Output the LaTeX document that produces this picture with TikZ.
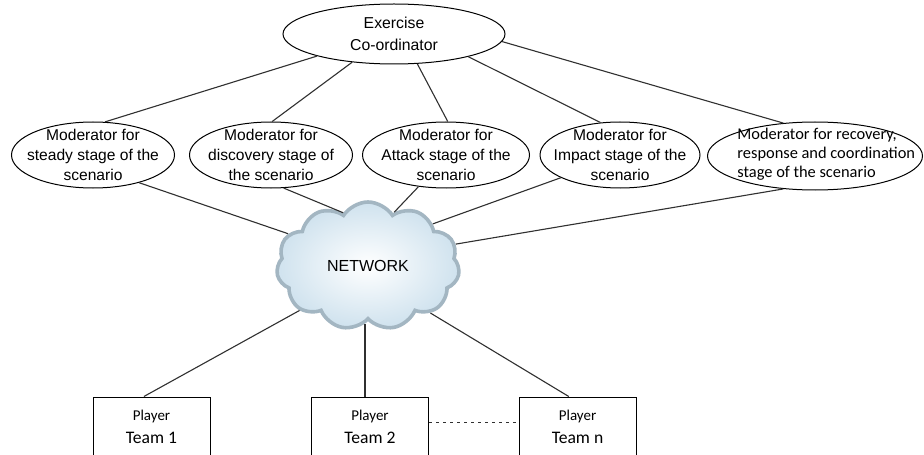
\documentclass[tikz,border=0pt]{standalone}
\usepackage{fontspec}
\setmainfont{Liberation Sans}
\newfontfamily\calfont{Carlito}
\usepackage{xcolor}
\definecolor{CloudEdge}{HTML}{A3B6C2}
\definecolor{CloudBlue}{HTML}{CFE2EE}
\definecolor{LineGray}{HTML}{303030}
\usepackage{tikz}
\usetikzlibrary{calc, positioning, shapes.geometric, shapes.symbols}

\begin{document}
\begin{tikzpicture}[x=0.5pt, y=-0.5pt,
  mod/.style={draw, ellipse, inner sep=0pt, minimum width=81.5pt, minimum height=33pt, line width=0.5pt},
  modtxt/.style={font=\fontsize{7.8}{10}\selectfont, align=center, inner sep=0pt},
  team/.style={draw, rectangle, minimum width=58.5pt, minimum height=30pt, inner sep=0pt, align=center, line width=0.5pt, font=\calfont\fontsize{8.8}{11.5}\selectfont},
  link/.style={draw=LineGray, line width=0.55pt}]
  \useasboundingbox (0,0) rectangle (924,454);
  \fill[white] (0,0) rectangle (924,454);
  % coordinator and moderators
  \node[mod, minimum width=111pt, minimum height=30pt, align=center, font=\fontsize{7.9}{11}\selectfont] (ex) at (394,34) {Exercise\\Co-ordinator};
  \node[mod] (m1) at (93,155) {};
  \node[modtxt] (m1t) at (m1) {Moderator for\\steady stage of the\\scenario};
  \node[mod] (m2) at (271,155) {};
  \node[modtxt] (m2t) at (m2) {Moderator for\\discovery stage of\\the scenario};
  \node[mod, minimum width=83.5pt] (m3) at (446,155) {};
  \node[modtxt] (m3t) at (m3) {Moderator for\\Attack stage of the\\scenario};
  \node[mod, minimum width=80pt] (m4) at (620,155) {};
  \node[modtxt] (m4t) at (m4) {Moderator for\\Impact stage of the\\scenario};
  \node[mod, minimum width=107.5pt, minimum height=34pt] (m5) at (815,156) {};
  \node[inner sep=0pt, anchor=west, align=left, font=\calfont\fontsize{8.2}{9.5}\selectfont] (m5t) at (737,154) {Moderator for recovery,\\response and coordination\\stage of the scenario};
  % network
  \node[cloud, cloud puffs=11, cloud puff arc=115, aspect=1.45, minimum width=91.5pt, minimum height=64pt,
        draw=CloudEdge, line width=1.8pt, inner color=white, outer color=CloudBlue,
        font=\fontsize{8}{10}\selectfont] (net) at (368,266) {NETWORK};
  % player teams
  \node[team] (t1) at (151.5,427) {{\fontsize{7.5}{11.5}\selectfont Player}\\Team 1};
  \node[team] (t2) at (370,427) {{\fontsize{7.5}{11.5}\selectfont Player}\\Team 2};
  \node[team] (tn) at (577.5,427) {{\fontsize{7.5}{11.5}\selectfont Player}\\Team n};

  \draw[link] (ex.196) -- (m1.70);
  \draw[link] (ex.214) -- (m2.88);
  \draw[link] (ex.308) -- (m3.87);
  \draw[link] (ex.343) -- (m4.121);
  \draw[link] (ex.356) -- (m5.134);
  \draw[link] (m1.329) -- (net.158);
  \draw[link] (m2.291) -- (net.115);
  \draw[link] (m3.229) -- (net.64);
  \draw[link] (m4.201) -- (net.33);
  \draw[link] (m5.226) -- (net.14);
  \draw[link] (net.213) -- (t1.104);
  \draw[link] (net.267) -- (net.267 |- t2.north);
  \draw[link] (net.323) -- (tn.106);
  \draw[link, dash pattern=on 1.5pt off 2pt] (t2.4) -- (tn.176);
\end{tikzpicture}
\end{document}
